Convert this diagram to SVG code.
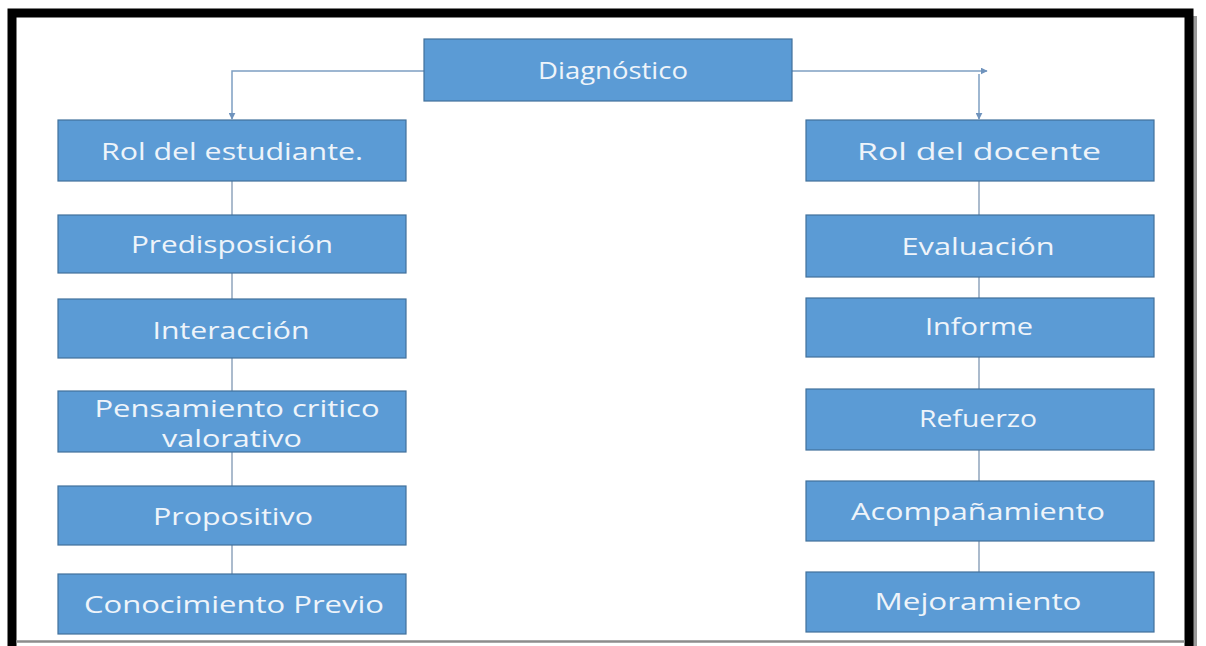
<svg xmlns="http://www.w3.org/2000/svg" width="1206" height="646" viewBox="0 0 1206 646">
<style>
.box{fill:#5B9BD5;stroke:#41719C;stroke-width:1.2}
.t{font-family:"Open Sans","Noto Sans",sans-serif;font-size:24px;fill:#EEF4FA;text-anchor:middle}
.c{fill:none;stroke:#8FA5BC;stroke-width:1.5}
.a{fill:none;stroke:#7E9FC2;stroke-width:1.5}
</style>
<defs>
<marker id="ah" viewBox="0 0 10 10" refX="9" refY="5" markerWidth="7" markerHeight="7" markerUnits="userSpaceOnUse" orient="auto">
<path d="M0,0 L10,5 L0,10 Z" fill="#6F93BD"/>
</marker>
</defs>
<rect x="0" y="0" width="1206" height="646" fill="#FFFFFF"/>
<g id="frame">
<path d="M1195,16 L1195,646" stroke="#9A9A9A" stroke-width="4" fill="none"/>
<path d="M12,646 L12,13 L1189,13 L1189,646" stroke="#000" stroke-width="9" fill="none"/>
<line x1="16" y1="641.5" x2="1185" y2="641.5" stroke="#8C8C8C" stroke-width="2.5"/>
</g>
<g id="connectors">
<path class="a" d="M424,71 L232,71 L232,119" marker-end="url(#ah)"/>
<path class="a" d="M792,71 L987,71" marker-end="url(#ah)"/>
<path class="a" d="M979,74 L979,119" marker-end="url(#ah)"/>
<line class="c" x1="232" y1="181" x2="232" y2="215"/>
<line class="c" x1="232" y1="273" x2="232" y2="299"/>
<line class="c" x1="232" y1="358" x2="232" y2="391"/>
<line class="c" x1="232" y1="452" x2="232" y2="486"/>
<line class="c" x1="232" y1="545" x2="232" y2="574"/>
<line class="c" x1="979" y1="181" x2="979" y2="215"/>
<line class="c" x1="979" y1="277" x2="979" y2="298"/>
<line class="c" x1="979" y1="357" x2="979" y2="389"/>
<line class="c" x1="979" y1="450" x2="979" y2="481"/>
<line class="c" x1="979" y1="541" x2="979" y2="572"/>
</g>
<g id="n-diagnostico"><rect class="box" x="424" y="39" width="368" height="62"/><text class="t" x="613" y="79" textLength="150" lengthAdjust="spacingAndGlyphs">Diagnóstico</text></g>
<g id="n-rol-estudiante"><rect class="box" x="58" y="120" width="348" height="61"/><text class="t" x="232" y="160" textLength="262" lengthAdjust="spacingAndGlyphs">Rol del estudiante.</text></g>
<g id="n-predisposicion"><rect class="box" x="58" y="215" width="348" height="58"/><text class="t" x="232" y="253" textLength="202" lengthAdjust="spacingAndGlyphs">Predisposición</text></g>
<g id="n-interaccion"><rect class="box" x="58" y="299" width="348" height="59"/><text class="t" x="231" y="339" textLength="157" lengthAdjust="spacingAndGlyphs">Interacción</text></g>
<g id="n-pensamiento"><rect class="box" x="58" y="391" width="348" height="61"/><text class="t" x="237" y="417" textLength="285" lengthAdjust="spacingAndGlyphs">Pensamiento critico</text><text class="t" x="232" y="447" textLength="140" lengthAdjust="spacingAndGlyphs">valorativo</text></g>
<g id="n-propositivo"><rect class="box" x="58" y="486" width="348" height="59"/><text class="t" x="233" y="525" textLength="160" lengthAdjust="spacingAndGlyphs">Propositivo</text></g>
<g id="n-conocimiento"><rect class="box" x="58" y="574" width="348" height="60"/><text class="t" x="234" y="613" textLength="300" lengthAdjust="spacingAndGlyphs">Conocimiento Previo</text></g>
<g id="n-rol-docente"><rect class="box" x="806" y="120" width="348" height="61"/><text class="t" x="979" y="160" textLength="244" lengthAdjust="spacingAndGlyphs">Rol del docente</text></g>
<g id="n-evaluacion"><rect class="box" x="806" y="215" width="348" height="62"/><text class="t" x="978" y="255" textLength="153" lengthAdjust="spacingAndGlyphs">Evaluación</text></g>
<g id="n-informe"><rect class="box" x="806" y="298" width="348" height="59"/><text class="t" x="979" y="335" textLength="108" lengthAdjust="spacingAndGlyphs">Informe</text></g>
<g id="n-refuerzo"><rect class="box" x="806" y="389" width="348" height="61"/><text class="t" x="978" y="427" textLength="118" lengthAdjust="spacingAndGlyphs">Refuerzo</text></g>
<g id="n-acompanamiento"><rect class="box" x="806" y="481" width="348" height="60"/><text class="t" x="978" y="520" textLength="254" lengthAdjust="spacingAndGlyphs">Acompañamiento</text></g>
<g id="n-mejoramiento"><rect class="box" x="806" y="572" width="348" height="60"/><text class="t" x="978" y="610" textLength="207" lengthAdjust="spacingAndGlyphs">Mejoramiento</text></g>
</svg>
